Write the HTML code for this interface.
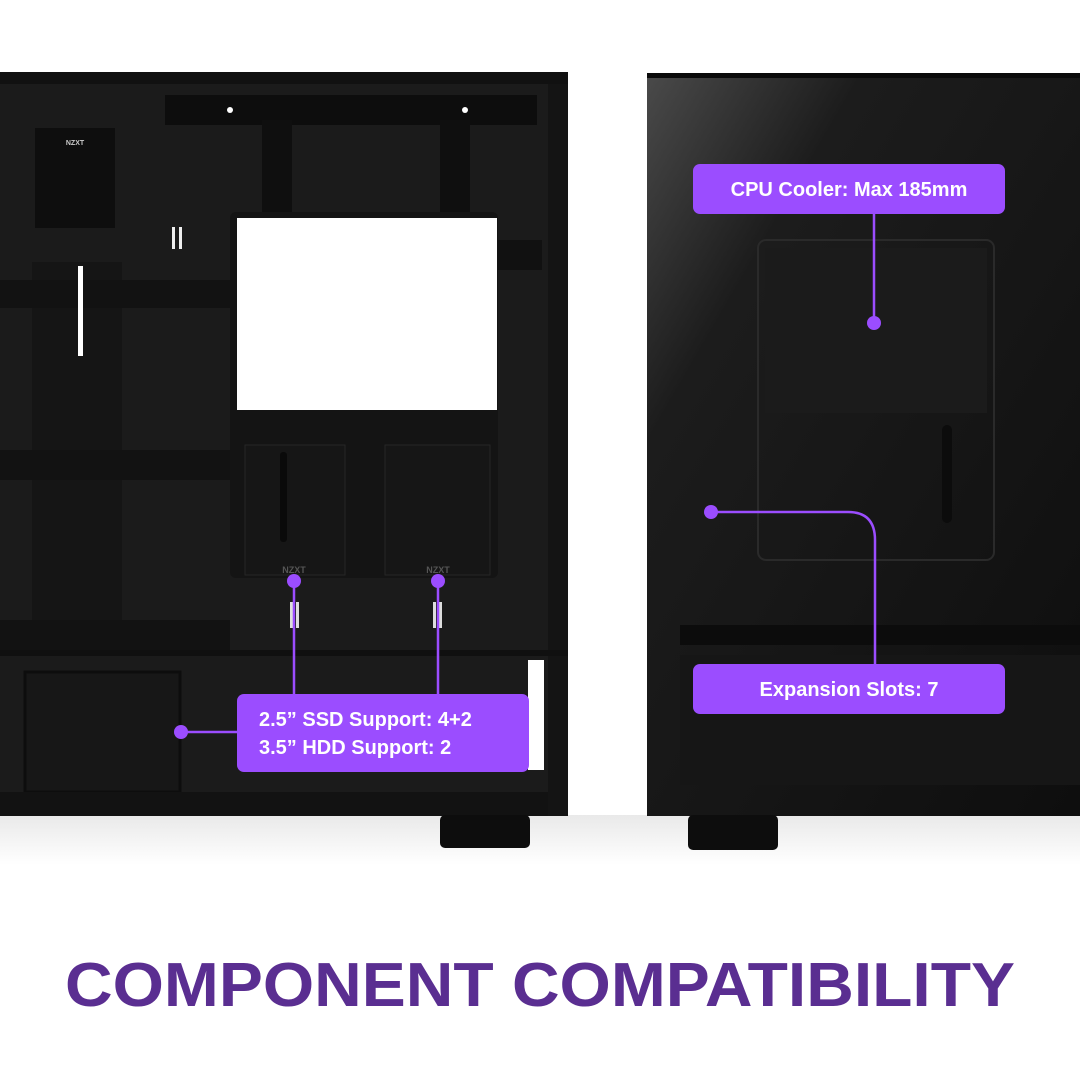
<!DOCTYPE html>
<html><head><style>
html,body{margin:0;padding:0;background:#fff;}
body{width:1080px;height:1080px;overflow:hidden;position:relative;font-family:"Liberation Sans",sans-serif;}
</style></head><body>
<svg width="1080" height="1080" viewBox="0 0 1080 1080" style="position:absolute;left:0;top:0">
<defs>
<linearGradient id="rg" x1="0" y1="0" x2="1" y2="1">
<stop offset="0" stop-color="#4a4a4a"/><stop offset="0.25" stop-color="#1c1c1c"/><stop offset="1" stop-color="#0e0e0e"/>
</linearGradient>
<linearGradient id="fl" x1="0" y1="0" x2="0" y2="1">
<stop offset="0" stop-color="#e9e9e9"/><stop offset="1" stop-color="#fff"/>
</linearGradient>
</defs>
<rect x="0" y="815" width="1080" height="50" fill="url(#fl)"/>
<!-- left case -->
<rect x="0" y="72" width="568" height="744" fill="#1b1b1b"/>
<rect x="0" y="72" width="568" height="12" fill="#111"/>
<rect x="548" y="84" width="20" height="732" fill="#141414"/>
<rect x="165" y="95" width="372" height="30" fill="#0d0d0d"/>
<circle cx="230" cy="110" r="3" fill="#fff"/><circle cx="465" cy="110" r="3" fill="#fff"/>
<rect x="262" y="120" width="30" height="98" fill="#0f0f0f"/>
<rect x="440" y="120" width="30" height="98" fill="#0f0f0f"/>
<rect x="35" y="128" width="80" height="100" fill="#0e0e0e"/>
<text x="75" y="145" fill="#ccc" font-size="7" font-weight="bold" text-anchor="middle">NZXT</text>
<rect x="32" y="262" width="90" height="390" fill="#151515"/>
<rect x="0" y="280" width="230" height="28" fill="#121212"/>
<rect x="0" y="450" width="230" height="30" fill="#121212"/>
<rect x="0" y="620" width="230" height="30" fill="#121212"/>
<rect x="78" y="266" width="5" height="90" fill="#fff"/>
<rect x="172" y="227" width="3" height="22" fill="#eee"/><rect x="179" y="227" width="3" height="22" fill="#eee"/>
<rect x="230" y="212" width="268" height="366" rx="6" fill="#141414"/>
<rect x="237" y="218" width="260" height="192" fill="#fff"/>
<rect x="497" y="240" width="45" height="30" fill="#111"/>
<rect x="245" y="445" width="100" height="130" fill="#161616" stroke="#262626"/>
<rect x="385" y="445" width="105" height="130" fill="#161616" stroke="#262626"/>
<text x="294" y="573" fill="#555" font-size="9" font-weight="bold" text-anchor="middle">NZXT</text>
<text x="438" y="573" fill="#555" font-size="9" font-weight="bold" text-anchor="middle">NZXT</text>
<rect x="280" y="452" width="7" height="90" rx="3" fill="#0a0a0a"/>
<rect x="290" y="602" width="3" height="26" fill="#ddd"/><rect x="296" y="602" width="3" height="26" fill="#ddd"/>
<rect x="433" y="602" width="3" height="26" fill="#ddd"/><rect x="439" y="602" width="3" height="26" fill="#ddd"/>
<rect x="0" y="650" width="568" height="6" fill="#101010"/>
<rect x="25" y="672" width="155" height="120" fill="#171717" stroke="#0d0d0d" stroke-width="3"/>
<rect x="528" y="660" width="16" height="110" fill="#fff"/>
<rect x="0" y="792" width="548" height="24" fill="#121212"/>
<rect x="440" y="815" width="90" height="33" rx="5" fill="#0d0d0d"/>
<!-- right case -->
<rect x="647" y="73" width="433" height="743" fill="url(#rg)"/>
<rect x="647" y="73" width="433" height="5" fill="#0a0a0a"/>
<rect x="758" y="240" width="236" height="320" rx="8" fill="none" stroke="#2a2a2a" stroke-width="2"/>
<rect x="765" y="248" width="222" height="165" fill="#1b1b1b"/>
<rect x="942" y="425" width="10" height="98" rx="5" fill="#0c0c0c"/>
<rect x="680" y="625" width="400" height="20" fill="#0c0c0c"/>
<rect x="680" y="655" width="400" height="130" fill="#161616"/>
<rect x="688" y="815" width="90" height="35" rx="5" fill="#0d0d0d"/>
<!-- callouts -->
<g stroke="#9b4dff" stroke-width="2.5" fill="none">
<line x1="874" y1="214" x2="874" y2="323"/>
<path d="M711 512 H848 Q875 512 875 540 V664"/>
<line x1="294" y1="581" x2="294" y2="694"/>
<line x1="438" y1="581" x2="438" y2="694"/>
<line x1="181" y1="732" x2="237" y2="732"/>
</g>
<g fill="#9b4dff">
<circle cx="874" cy="323" r="7"/><circle cx="711" cy="512" r="7"/>
<circle cx="294" cy="581" r="7"/><circle cx="438" cy="581" r="7"/><circle cx="181" cy="732" r="7"/>
<rect x="693" y="164" width="312" height="50" rx="7"/>
<rect x="693" y="664" width="312" height="50" rx="7"/>
<rect x="237" y="694" width="292" height="78" rx="7"/>
</g>
<g fill="#fff" font-weight="bold" font-size="20">
<text x="849" y="196" text-anchor="middle">CPU Cooler: Max 185mm</text>
<text x="849" y="696" text-anchor="middle">Expansion Slots: 7</text>
<text x="259" y="726">2.5” SSD Support: 4+2</text>
<text x="259" y="754">3.5” HDD Support: 2</text>
</g>
<text x="540" y="1006" text-anchor="middle" fill="#5a2e91" font-size="62" font-weight="bold" textLength="950" lengthAdjust="spacingAndGlyphs">COMPONENT COMPATIBILITY</text>
</svg>
</body></html>
